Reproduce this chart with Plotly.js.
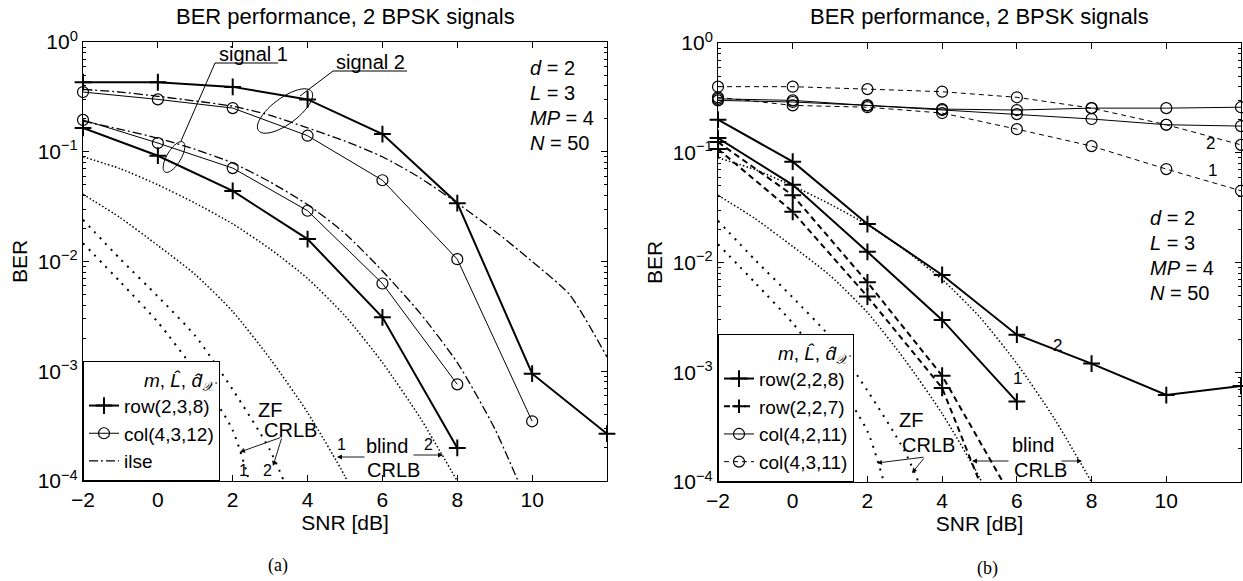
<!DOCTYPE html>
<html><head><meta charset="utf-8">
<script src="https://cdn.plot.ly/plotly-3.0.1.min.js"></script>
<style>html,body{margin:0;padding:0;background:#fff}#chart{width:1243px;height:581px}</style>
</head><body><div id="chart"></div>
<script>
// ---------- data ----------
const snrEven = [-2, 0, 2, 4, 6, 8, 10, 12];
const snrAll = [-2, -1, 0, 1, 2, 3, 4, 5, 6, 7, 8, 9, 10, 11, 12];

// panel (a)
const aRowSig2 = [0.43, 0.43, 0.39, 0.30, 0.145, 0.034, 0.00095, 0.00027];
const aRowSig1 = [0.165, 0.092, 0.044, 0.016, 0.0031, 0.0002];
const aColSig2 = [0.35, 0.30, 0.25, 0.14, 0.055, 0.0105, 0.00035];
const aColSig1 = [0.195, 0.12, 0.071, 0.029, 0.0063, 0.00076];
const aIlseSig2 = [0.37, 0.35, 0.32, 0.29, 0.26, 0.215, 0.165, 0.125, 0.09, 0.058, 0.034, 0.019, 0.01, 0.005, 0.00135];
const aIlseSig1 = [0.19, 0.16, 0.133, 0.105, 0.079, 0.053, 0.033, 0.018, 0.0082, 0.0034, 0.0012, 0.0003, 0.00005];

// panel (b)
const bRow8Sig2 = [0.2, 0.083, 0.0224, 0.0077, 0.0022, 0.0012, 0.00062, 0.00075];
const bRow8Sig1 = [0.136, 0.051, 0.0125, 0.003, 0.00054];
const bRow7SigA = [0.125, 0.041, 0.0066, 0.00093, 0.00006];
const bRow7SigB = [0.108, 0.029, 0.0049, 0.00072, 0.000014];
const bCol2Up = [0.30, 0.29, 0.27, 0.25, 0.245, 0.255, 0.255, 0.26];
const bCol2Low = [0.31, 0.30, 0.27, 0.245, 0.225, 0.203, 0.18, 0.175];
const bCol3Sig2 = [0.40, 0.40, 0.38, 0.36, 0.32, 0.255, 0.18, 0.118];
const bCol3Sig1 = [0.32, 0.27, 0.26, 0.23, 0.164, 0.115, 0.071, 0.045];

// CRLB bounds (same in both panels)
const blindCrlb2 = [0.09, 0.07, 0.05, 0.034, 0.022, 0.013, 0.007, 0.0032, 0.0012, 0.00038, 0.0001];
const blindCrlb1 = [0.041, 0.025, 0.014, 0.0076, 0.0035, 0.0013, 0.00042, 0.00011, 0.00002];
const zfCrlb1 = [0.0147, 0.0065, 0.0028, 0.001, 0.00029, 0.00002];
const zfCrlb2 = [0.024, 0.0105, 0.0048, 0.0021, 0.00068, 0.00019, 0.00003];

// ticks / labels
const xTicks = [-2, 0, 2, 4, 6, 8, 10];
const yDecades = [1e-4, 1e-3, 1e-2, 1e-1, 1];
const yDecadeText = ['10<sup>\u22124</sup>', '10<sup>\u22123</sup>', '10<sup>\u22122</sup>', '10<sup>\u22121</sup>', '10<sup>0</sup>'];
const titleText = 'BER performance, 2 BPSK signals';
const legendATitle = '<i>m</i>, <i>L\u0302</i>, <i>d\u0302</i><sub><i>\uD835\uDCB3</i></sub>';
const legendANames = ['row(2,3,8)', 'col(4,3,12)', 'ilse'];
const legendBNames = ['row(2,2,8)', 'row(2,2,7)', 'col(4,2,11)', 'col(4,3,11)'];

// ---------- styles ----------
const FONT = 'Liberation Sans, Arial, Helvetica, sans-serif';
const K = '#000';
const clone = o => JSON.parse(JSON.stringify(o));
const rowSolid = {mode: 'lines+markers', line: {color: K, width: 2}, marker: {symbol: 'cross-thin', size: 12, opacity: 1, color: K, line: {color: K, width: 2}}, cliponaxis: false};
const colSolid = {mode: 'lines+markers', line: {color: K, width: 1}, marker: {symbol: 'circle-open', size: 11, opacity: 1, color: K, line: {color: K, width: 1.2}}, cliponaxis: false};
const rowDash = {mode: 'lines+markers', line: {color: K, width: 2, dash: '6px,4px'}, marker: {symbol: 'cross-thin', size: [12, 12, 12, 12, 0], opacity: 1, color: K, line: {color: K, width: 2}}, cliponaxis: false};
const colDash = {mode: 'lines+markers', line: {color: K, width: 1, dash: '5px,4px'}, marker: {symbol: 'circle-open', size: 11, opacity: 1, color: K, line: {color: K, width: 1.2}}, cliponaxis: false};
const ilseStyle = {mode: 'lines', line: {color: K, width: 1.3, dash: '9px,3px,2px,3px', shape: 'spline', smoothing: 0.6}};
const denseDot = {mode: 'lines', line: {color: K, width: 1.5, dash: '1.5px,2.2px', shape: 'spline', smoothing: 0.6}};
const sparseDot = {mode: 'lines', line: {color: K, width: 2, dash: '2px,6px', shape: 'spline', smoothing: 0.6}};

function tr(panel, xs, ys, style, name) {
  const t = Object.assign({type: 'scatter', x: xs.slice(0, ys.length), y: ys, hoverinfo: 'skip'}, clone(style));
  t.xaxis = panel === 'a' ? 'x' : 'x2';
  t.yaxis = panel === 'a' ? 'y' : 'y2';
  t.legend = panel === 'a' ? 'legend' : 'legend2';
  if (name) { t.name = name; t.showlegend = true; } else { t.showlegend = false; }
  return t;
}

const traces = [
  // panel (a)
  tr('a', snrEven, aRowSig2, rowSolid, legendANames[0]),
  tr('a', snrEven, aRowSig1, rowSolid),
  tr('a', snrEven, aColSig2, colSolid, legendANames[1]),
  tr('a', snrEven, aColSig1, colSolid),
  tr('a', snrAll, aIlseSig2, ilseStyle, legendANames[2]),
  tr('a', snrAll, aIlseSig1, ilseStyle),
  tr('a', snrAll, blindCrlb2, denseDot),
  tr('a', snrAll, blindCrlb1, denseDot),
  tr('a', snrAll, zfCrlb1, sparseDot),
  tr('a', snrAll, zfCrlb2, sparseDot),
  // panel (b)
  tr('b', snrEven, bRow8Sig2, rowSolid, legendBNames[0]),
  tr('b', snrEven, bRow8Sig1, rowSolid),
  tr('b', snrEven, bRow7SigA, rowDash, legendBNames[1]),
  tr('b', snrEven, bRow7SigB, rowDash),
  tr('b', snrEven, bCol2Up, colSolid, legendBNames[2]),
  tr('b', snrEven, bCol2Low, colSolid),
  tr('b', snrEven, bCol3Sig2, colDash, legendBNames[3]),
  tr('b', snrEven, bCol3Sig1, colDash),
  tr('b', snrAll, blindCrlb2, denseDot),
  tr('b', snrAll, blindCrlb1, denseDot),
  tr('b', snrAll, zfCrlb1, sparseDot),
  tr('b', snrAll, zfCrlb2, sparseDot)
];

// ---------- layout ----------
const W = 1243, H = 581;
const A = {l: 83, r: 607, t: 42, b: 481};
const B = {l: 718, r: 1241, t: 43, b: 482};

const minorVals = [];
for (let d = -4; d < 0; d++) for (let k = 2; k <= 9; k++) minorVals.push(k * Math.pow(10, d));

function xAx(P, anchor) {
  return {domain: [P.l / W, P.r / W], anchor: anchor, range: [-2, 12], tickmode: 'array', tickvals: xTicks,
    ticks: 'inside', ticklen: 6, tickcolor: K, mirror: 'ticks', showline: true, linecolor: K, linewidth: 1,
    showgrid: false, zeroline: false, tickfont: {size: 21, family: FONT, color: K},
    title: {text: 'SNR [dB]', font: {size: 21, family: FONT, color: K}, standoff: 4}};
}
function yAx(P, anchor) {
  return {domain: [(H - P.b) / H, (H - P.t) / H], anchor: anchor, type: 'log', range: [-4, 0], tickmode: 'array',
    tickvals: yDecades, ticktext: yDecadeText, ticks: 'inside', ticklen: 6, tickcolor: K, mirror: 'ticks',
    showline: true, linecolor: K, linewidth: 1, showgrid: false, zeroline: false,
    tickfont: {size: 21, family: FONT, color: K},
    minor: {tickmode: 'array', tickvals: minorVals, ticks: 'inside', ticklen: 3, tickcolor: K, showgrid: false},
    title: {text: 'BER', font: {size: 21, family: FONT, color: K}, standoff: 4}};
}

// pixel helpers for decorations (domain-relative)
function pa(px, py) { return {xref: 'x domain', yref: 'y domain', x: (px - A.l) / (A.r - A.l), y: (A.b - py) / (A.b - A.t)}; }
function pb(px, py) { return {xref: 'x2 domain', yref: 'y2 domain', x: (px - B.l) / (B.r - B.l), y: (B.b - py) / (B.b - B.t)}; }
const P = {a: pa, b: pb};

function label(panel, px, py, text, opts) {
  return Object.assign(P[panel](px, py), {text: text, showarrow: false, xanchor: 'center', yanchor: 'middle',
    font: {size: 20, family: FONT, color: K}}, opts || {});
}
function arrow(panel, tx, ty, hx, hy) {
  return Object.assign(P[panel](hx, hy), {text: '', showarrow: true, ax: tx - hx, ay: ty - hy,
    arrowhead: 2, arrowsize: 1.1, arrowwidth: 0.9, arrowcolor: K});
}
function seg(panel, x0, y0, x1, y1) {
  const p0 = P[panel](x0, y0), p1 = P[panel](x1, y1);
  return {type: 'line', xref: p0.xref, yref: p0.yref, x0: p0.x, y0: p0.y, x1: p1.x, y1: p1.y, line: {color: K, width: 1}};
}
function ellipse(panel, cx, cy, a, b, angDeg) {
  const th = angDeg * Math.PI / 180; let d = '';
  for (let i = 0; i <= 48; i++) {
    const t = 2 * Math.PI * i / 48;
    const ex = a * Math.cos(t), ey = b * Math.sin(t);
    const px = cx + ex * Math.cos(th) - ey * Math.sin(th);
    const py = cy + ex * Math.sin(th) + ey * Math.cos(th);
    const p = P[panel](px, py);
    d += (i === 0 ? 'M ' : ' L ') + p.x.toFixed(5) + ' ' + p.y.toFixed(5);
  }
  const p = P[panel](cx, cy);
  return {type: 'path', xref: p.xref, yref: p.yref, path: d + ' Z', line: {color: K, width: 1}};
}

const small = {size: 16, family: FONT, color: K};
const annotations = [
  {xref: 'paper', yref: 'paper', x: ((A.l + A.r) / 2) / W, y: (H - 16) / H, text: titleText, showarrow: false,
    xanchor: 'center', yanchor: 'middle', font: {size: 22, family: FONT, color: K}},
  {xref: 'paper', yref: 'paper', x: ((B.l + B.r) / 2) / W, y: (H - 16) / H, text: titleText, showarrow: false,
    xanchor: 'center', yanchor: 'middle', font: {size: 22, family: FONT, color: K}},
  // panel (a) parameters
  label('a', 528, 68, '<i>d</i> = 2', {xanchor: 'left'}),
  label('a', 528, 93, '<i>L</i> = 3', {xanchor: 'left'}),
  label('a', 528, 118, '<i>MP</i> = 4', {xanchor: 'left'}),
  label('a', 528, 143, '<i>N</i> = 50', {xanchor: 'left'}),
  label('a', 217, 54, 'signal 1', {xanchor: 'left'}),
  label('a', 334, 62, 'signal 2', {xanchor: 'left'}),
  label('a', 270, 410, 'ZF'),
  label('a', 290, 430, 'CRLB'),
  label('a', 243, 471, '1', {font: small}),
  label('a', 267, 471, '2', {font: small}),
  arrow('a', 282, 437, 240, 452),
  arrow('a', 282, 437, 273, 466),
  label('a', 387, 446, 'blind'),
  label('a', 393, 470, 'CRLB'),
  label('a', 341, 445, '1', {font: small}),
  label('a', 428, 445, '2', {font: small}),
  arrow('a', 366, 457, 337, 457),
  arrow('a', 412, 455, 443, 455),
  // panel (b)
  label('b', 1148, 218, '<i>d</i> = 2', {xanchor: 'left'}),
  label('b', 1148, 243, '<i>L</i> = 3', {xanchor: 'left'}),
  label('b', 1148, 268, '<i>MP</i> = 4', {xanchor: 'left'}),
  label('b', 1148, 293, '<i>N</i> = 50', {xanchor: 'left'}),
  label('b', 1210, 143, '2', {font: {size: 17, family: FONT, color: K}}),
  label('b', 1212, 170, '1', {font: {size: 17, family: FONT, color: K}}),
  label('b', 1057, 345, '2', {font: {size: 17, family: FONT, color: K}}),
  label('b', 1017, 378, '1', {font: {size: 17, family: FONT, color: K}}),
  label('b', 911, 420, 'ZF'),
  label('b', 928, 445, 'CRLB'),
  arrow('b', 925, 457, 877, 463),
  arrow('b', 925, 457, 912, 473),
  label('b', 1033, 445, 'blind'),
  label('b', 1040, 470, 'CRLB'),
  arrow('b', 1010, 461, 972, 461),
  arrow('b', 1060, 461, 1082, 461),
  // captions
  {xref: 'paper', yref: 'paper', x: 278 / W, y: (H - 565) / H, text: '(a)', showarrow: false, xanchor: 'center', yanchor: 'middle',
    font: {size: 18, family: 'Liberation Serif, Times New Roman, serif', color: K}},
  {xref: 'paper', yref: 'paper', x: 987 / W, y: (H - 568) / H, text: '(b)', showarrow: false, xanchor: 'center', yanchor: 'middle',
    font: {size: 18, family: 'Liberation Serif, Times New Roman, serif', color: K}}
];

const shapes = [
  seg('a', 215, 63, 278, 63),
  seg('a', 215, 63, 181, 141),
  ellipse('a', 174, 157, 17.5, 7, -59),
  seg('a', 333, 71, 407, 71),
  seg('a', 333, 71, 300, 96),
  ellipse('a', 285, 111, 33, 13, -36.5)
];

function legendBox(P) {
  return {x: P.l / W, xanchor: 'left', y: (H - P.b) / H, yanchor: 'bottom', bgcolor: '#fff', bordercolor: K, borderwidth: 1,
    font: {size: 19, family: FONT, color: K}, tracegroupgap: 0, itemwidth: 30,
    title: {text: legendATitle, side: 'top right', font: {size: 19, family: FONT, color: K}}};
}

const layout = {
  width: W, height: H, margin: {l: 0, r: 0, t: 0, b: 0}, paper_bgcolor: '#fff', plot_bgcolor: '#fff',
  font: {family: FONT, color: K}, showlegend: true,
  xaxis: xAx(A, 'y'), yaxis: yAx(A, 'x'), xaxis2: xAx(B, 'y2'), yaxis2: yAx(B, 'x2'),
  legend: legendBox(A), legend2: legendBox(B),
  annotations: annotations, shapes: shapes
};

Plotly.newPlot('chart', traces, layout, {staticPlot: true, displayModeBar: false});
</script></body></html>
